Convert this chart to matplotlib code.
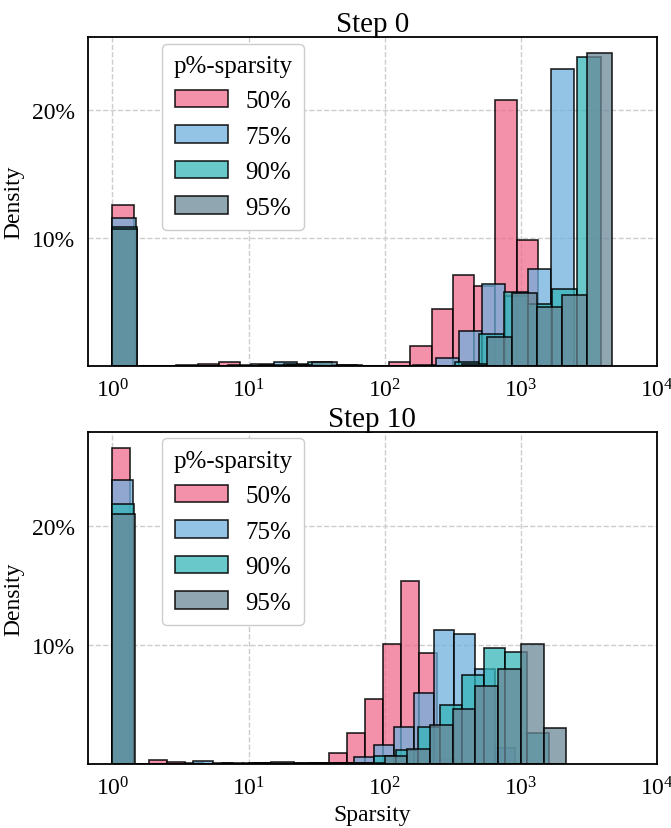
import numpy as np
import matplotlib
matplotlib.use("Agg")
import matplotlib.pyplot as plt
from matplotlib.colors import to_rgba
from matplotlib.ticker import FuncFormatter

plt.rcParams['font.family'] = ['Liberation Serif', 'DejaVu Serif']
plt.rcParams['mathtext.fontset'] = 'stix'

# niveles de sparsity
etiquetas = ['50%', '75%', '90%', '95%']
colores = ['#EF6A8C', '#6FB0DD', '#33B5B8', '#6A8898']

# log10 del valor maximo de cada serie (20 bins desde 10^0)
max_log_paso0 = [3.126, 3.392, 3.592, 3.672]
max_log_paso10 = [2.648, 2.956, 3.208, 3.334]

# alturas en % por bin (20 bins)
paso0 = [
    [12.6, 0, 0, 0.1, 0.2, 0.35, 0.05, 0.05, 0.1, 0.1, 0.05, 0, 0, 0.3, 1.6, 4.5, 7.1, 6.3, 20.8, 9.9],
    [11.6, 0, 0, 0, 0.05, 0.1, 0.15, 0.3, 0.1, 0.05, 0, 0, 0.05, 0.1, 0.65, 2.76, 6.4, 5.5, 7.6, 23.2],
    [10.9, 0, 0, 0, 0, 0.05, 0.1, 0.2, 0.3, 0.1, 0, 0, 0, 0.05, 0.3, 2.5, 5.8, 4.9, 6.0, 24.2],
    [10.7, 0, 0, 0, 0, 0, 0.05, 0.1, 0.3, 0.1, 0, 0, 0, 0, 0.15, 2.25, 5.7, 4.65, 5.6, 24.5],
]
paso10 = [
    [26.6, 0, 0.37, 0.22, 0.1, 0.05, 0.05, 0.05, 0.05, 0.05, 0.05, 0.1, 0.9, 2.6, 5.5, 10.1, 15.4, 9.3, 0.4, 0.2],
    [23.9, 0, 0, 0, 0.3, 0.1, 0.05, 0.1, 0.05, 0.05, 0.05, 0.1, 0.6, 1.6, 3.1, 6.0, 11.3, 10.9, 8.0, 1.4],
    [21.9, 0, 0, 0, 0, 0.1, 0.1, 0.1, 0.1, 0.1, 0.1, 0.1, 0.65, 1.2, 3.1, 5.0, 7.45, 9.8, 9.4, 2.6],
    [21.0, 0, 0, 0, 0, 0, 0.1, 0.2, 0.1, 0.1, 0.1, 0.1, 0.7, 1.3, 3.3, 4.6, 6.6, 8.0, 10.1, 3.05],
]


def graficar_paso(ax, alturas, max_logs, titulo):
    for h, mlog, c, lab in zip(alturas, max_logs, colores, etiquetas):
        bordes = 10 ** np.linspace(0, mlog, 21)
        ax.bar(bordes[:-1], np.array(h) / 100, width=np.diff(bordes), align='edge',
               color=to_rgba(c, 0.74), edgecolor=(0, 0, 0, 0.85), linewidth=1.2, label=lab)
    ax.set_xscale('log')
    ax.set_xlim(0.66, 1e4)
    ymax = max(max(h) for h in alturas) / 100
    ax.set_ylim(0, ymax * 1.05)
    ax.set_yticks([0.1, 0.2])
    ax.yaxis.set_major_formatter(FuncFormatter(lambda v, p: f'{v * 100:.0f}%'))
    ax.set_xticks([1, 10, 100, 1000, 10000])
    ax.minorticks_off()
    ax.grid(True, linestyle='--', color='#cccccc', linewidth=1.0)
    ax.set_axisbelow(True)
    ax.tick_params(labelsize=17, length=0, pad=9)
    for s in ax.spines.values():
        s.set_linewidth(1.3)
        s.set_color('black')
    ax.set_title(titulo, fontsize=21, pad=3)
    ax.set_ylabel('Density', fontsize=17, labelpad=6)
    leg = ax.legend(title='p%-sparsity', loc='upper left', bbox_to_anchor=(0.131, 0.98),
                    borderaxespad=0, fontsize=18, title_fontsize=18, handlelength=2.1,
                    handleheight=0.7, handletextpad=0.7, labelspacing=0.52,
                    borderpad=0.45, fancybox=True, framealpha=1.0, edgecolor='#cccccc')
    leg.get_frame().set_linewidth(1.0)


fig = plt.figure(figsize=(6.71, 8.29), dpi=100)
ax1 = fig.add_axes([0.131, 0.557, 0.848, 0.397])
ax2 = fig.add_axes([0.131, 0.077, 0.848, 0.401])

graficar_paso(ax1, paso0, max_log_paso0, 'Step 0')
graficar_paso(ax2, paso10, max_log_paso10, 'Step 10')
ax2.set_xlabel('Sparsity', fontsize=17, labelpad=3)

fig.savefig('out.png', dpi=100)
